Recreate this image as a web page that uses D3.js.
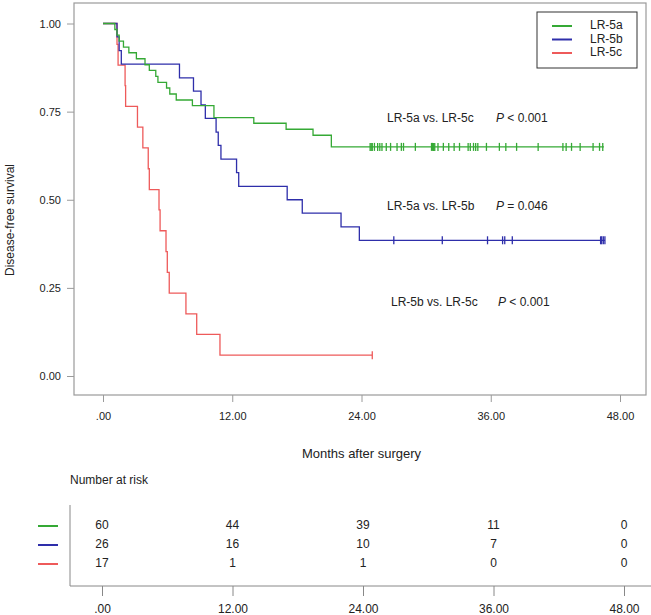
<!DOCTYPE html>
<html>
<head>
<meta charset="utf-8">
<script src="https://cdn.jsdelivr.net/npm/d3@7/dist/d3.min.js"></script>
<style>
  body { margin: 0; background: #fff; }
  text { font-family: "Liberation Sans", Arial, sans-serif; fill: #222; }
</style>
</head>
<body>
<div id="chart-area"></div>
<script>
//============================DATA============================
// step curves: [months, survival]
var groups = ["LR-5a", "LR-5b", "LR-5c"];
var colors = ["#35a935", "#2e2eaa", "#ee5a5a"];

var greenTimes = [0, 1.1, 1.3, 1.5, 1.9, 2.4, 3.1, 3.9, 4.3, 4.9, 5.1, 5.9, 6.2, 6.8, 8.3, 10.3, 14.0, 17.0, 19.5, 21.2, 46.5];
var greenSurv  = [1, 0.983, 0.967, 0.950, 0.933, 0.917, 0.900, 0.883, 0.867, 0.850, 0.833, 0.817, 0.800, 0.783, 0.767, 0.733, 0.717, 0.700, 0.683, 0.650, 0.650];
var greenCensor = [24.8, 24.9, 25.0, 25.2, 25.5, 25.7, 25.9, 26.3, 26.7, 27.3, 27.7, 27.9, 29.0, 30.5, 30.6, 30.7, 30.8,
                   31.1, 31.6, 32.1, 32.6, 33.1, 33.9, 34.1, 34.4, 34.6, 34.8, 35.6, 36.8, 37.4, 38.4, 40.4, 42.7, 43.0,
                   43.5, 44.3, 45.5, 46.1, 46.4];

var blueTimes = [0, 1.3, 1.5, 1.7, 7.1, 8.4, 9.1, 9.5, 10.5, 10.7, 10.95, 12.4, 12.6, 17.1, 18.5, 22.1, 23.8, 46.6];
var blueSurv  = [1, 0.962, 0.923, 0.885, 0.846, 0.808, 0.769, 0.731, 0.692, 0.654, 0.615, 0.577, 0.538, 0.500, 0.462, 0.423, 0.385, 0.385];
var blueCensor = [27.0, 31.5, 35.7, 37.1, 37.3, 38.0, 46.2, 46.3, 46.45, 46.6];

var redTimes = [0, 1.3, 1.4, 2.05, 2.1, 3.2, 3.7, 4.2, 4.3, 5.2, 5.3, 5.85, 5.97, 6.15, 7.7, 8.7, 10.86, 25.0];
var redSurv  = [1, 0.941, 0.882, 0.824, 0.765, 0.706, 0.647, 0.588, 0.529, 0.471, 0.412, 0.353, 0.294, 0.235, 0.176, 0.118, 0.059, 0.059];
var redCensor = [25.0];

var xTicks = [0, 12, 24, 36, 48];
var yTicks = [0, 0.25, 0.5, 0.75, 1];

// number at risk
var riskA = [60, 44, 39, 11, 0];
var riskB = [26, 16, 10, 7, 0];
var riskC = [17, 1, 1, 0, 0];

var comparisons = ["LR-5a vs. LR-5c", "LR-5a vs. LR-5b", "LR-5b vs. LR-5c"];
var pValues = ["< 0.001", "= 0.046", "< 0.001"];

//============================SETUP============================
var W = 651, H = 615;
var svg = d3.select("#chart-area").append("svg")
    .attr("width", W).attr("height", H);

var frame = { left: 74, top: 3, right: 646, bottom: 395 };

var x = d3.scaleLinear().domain([0, 48]).range([103, 620]);
var y = d3.scaleLinear().domain([0, 1]).range([376, 23.5]);

var fmtX = function(d){ return d === 0 ? ".00" : d.toFixed(2); };

// frame
svg.append("rect")
    .attr("x", frame.left).attr("y", frame.top)
    .attr("width", frame.right - frame.left).attr("height", frame.bottom - frame.top)
    .attr("fill", "none").attr("stroke", "#9a9a9a").attr("stroke-width", 1.2);

// y axis
var yAxis = svg.append("g")
    .attr("transform", "translate(" + frame.left + ",0)")
    .call(d3.axisLeft(y).tickValues(yTicks).tickFormat(d3.format(".2f")).tickSize(7).tickPadding(6));
yAxis.select(".domain").remove();
yAxis.selectAll("line").attr("stroke", "#9a9a9a");
yAxis.selectAll("text").attr("font-size", "11px").attr("font-family", "Liberation Sans, Arial");

svg.append("text")
    .attr("transform", "translate(11,220) rotate(-90)")
    .attr("text-anchor", "middle")
    .attr("font-size", "12px")
    .attr("dominant-baseline", "middle")
    .text("Disease-free  survival");

// x axis
var xAxis = svg.append("g")
    .attr("transform", "translate(0," + frame.bottom + ")")
    .call(d3.axisBottom(x).tickValues(xTicks).tickFormat(fmtX).tickSize(7).tickPadding(10));
xAxis.select(".domain").remove();
xAxis.selectAll("line").attr("stroke", "#9a9a9a");
xAxis.selectAll("text").attr("font-size", "11px").attr("font-family", "Liberation Sans, Arial");

svg.append("text")
    .attr("x", (x(0) + x(48)) / 2).attr("y", 458)
    .attr("text-anchor", "middle")
    .attr("font-size", "13px")
    .text("Months after surgery");

//============================CURVES============================
var line = d3.line()
    .x(function(d){ return x(d[0]); })
    .y(function(d){ return y(d[1]); })
    .curve(d3.curveStepAfter);

var curves = [
    { times: greenTimes, surv: greenSurv, censor: greenCensor },
    { times: blueTimes, surv: blueSurv, censor: blueCensor },
    { times: redTimes, surv: redSurv, censor: redCensor }
];

// red first so green/blue sit on top
[2, 1, 0].forEach(function(i){
    var c = curves[i];
    var pts = c.times.map(function(t, k){ return [t, c.surv[k]]; });
    svg.append("path")
        .attr("d", line(pts))
        .attr("fill", "none")
        .attr("stroke", colors[i])
        .attr("stroke-width", 1.3);
    var last = c.surv[c.surv.length - 1];
    svg.selectAll(null)
        .data(c.censor)
        .enter().append("line")
        .attr("x1", function(d){ return x(d); })
        .attr("x2", function(d){ return x(d); })
        .attr("y1", y(last) - 4)
        .attr("y2", y(last) + 4)
        .attr("stroke", colors[i])
        .attr("stroke-width", 1.3);
});

// p-value annotations
var annotY = [119, 207, 303];
comparisons.forEach(function(s, i){
    svg.append("text")
        .attr("x", 387 + (i === 2 ? 4 : 0)).attr("y", annotY[i])
        .attr("dominant-baseline", "middle")
        .attr("font-size", "12px")
        .text(s);
    var p = svg.append("text")
        .attr("x", 496 + (i === 2 ? 2 : 0)).attr("y", annotY[i])
        .attr("dominant-baseline", "middle")
        .attr("font-size", "12px");
    p.append("tspan").attr("font-style", "italic").text("P");
    p.append("tspan").text(" " + pValues[i]);
});

// legend
var legend = svg.append("g");
legend.append("rect")
    .attr("x", 537).attr("y", 12).attr("width", 100).attr("height", 56)
    .attr("fill", "#fff").attr("stroke", "#333").attr("stroke-width", 1);
groups.forEach(function(gname, i){
    var ly = 26 + i * 13.5;
    legend.append("line")
        .attr("x1", 552).attr("x2", 572).attr("y1", ly).attr("y2", ly)
        .attr("stroke", colors[i]).attr("stroke-width", 2);
    legend.append("text")
        .attr("x", 590).attr("y", ly)
        .attr("dominant-baseline", "middle")
        .attr("font-size", "12px")
        .text(gname);
});

//============================RISK TABLE============================
var xr = d3.scaleLinear().domain([0, 48]).range([102, 624]);
var tableTop = 505, tableAxisY = 586;
var rowY = [526, 545, 564];

svg.append("text")
    .attr("x", 70).attr("y", 481)
    .attr("dominant-baseline", "middle")
    .attr("font-size", "12px")
    .text("Number  at  risk");

svg.append("line")
    .attr("x1", 70).attr("x2", 70).attr("y1", tableTop).attr("y2", tableAxisY)
    .attr("stroke", "#888");

var rAxis = svg.append("g")
    .attr("transform", "translate(0," + tableAxisY + ")")
    .call(d3.axisBottom(xr).tickValues(xTicks).tickFormat(fmtX).tickSize(10).tickPadding(8));
rAxis.select(".domain").remove();
rAxis.selectAll("line").attr("stroke", "#888");
rAxis.selectAll("text").attr("font-size", "12px").attr("font-family", "Liberation Sans, Arial");
svg.append("line")
    .attr("x1", 70).attr("x2", 651).attr("y1", tableAxisY).attr("y2", tableAxisY)
    .attr("stroke", "#888");

[riskA, riskB, riskC].forEach(function(row, i){
    svg.append("line")
        .attr("x1", 38).attr("x2", 58).attr("y1", rowY[i]).attr("y2", rowY[i])
        .attr("stroke", colors[i]).attr("stroke-width", 2);
    svg.selectAll(null)
        .data(row)
        .enter().append("text")
        .attr("x", function(d, k){ return xr(xTicks[k]); })
        .attr("y", rowY[i])
        .attr("text-anchor", "middle")
        .attr("dominant-baseline", "middle")
        .attr("font-size", "12px")
        .text(function(d){ return d; });
});
</script>
</body>
</html>
